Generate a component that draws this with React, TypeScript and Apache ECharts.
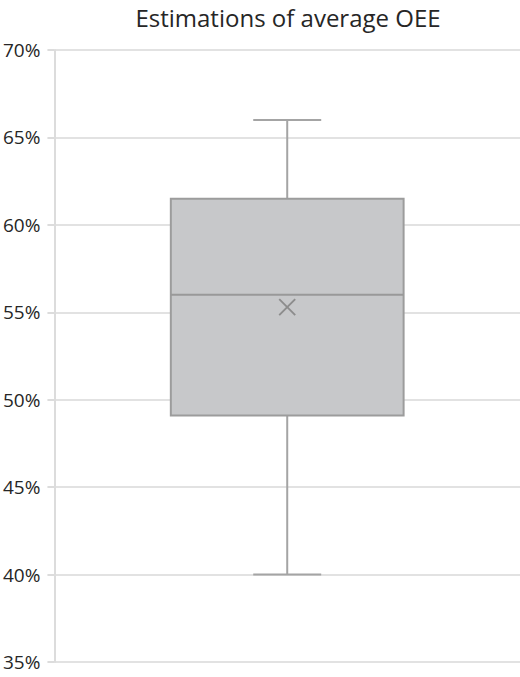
import { useEffect, useRef } from "react";
import * as echarts from "echarts";

// one box: [category index, min, Q1, median, Q3, max, mean] in percent
const categories = ["OEE"];
const boxStats = [[0, 40, 49.1, 56, 61.5, 66, 55.3]];
const yTicks = { min: 35, max: 70, interval: 5 };

const FONT = "'Open Sans', sans-serif";

export default function App() {
  const chartRef = useRef<HTMLDivElement>(null);

  useEffect(() => {
    document.body.style.margin = "0";
    if (!chartRef.current) return;
    const chart = echarts.init(chartRef.current, null, { renderer: "svg" });

    const option = {
      animation: false,
      backgroundColor: "#ffffff",
      title: {
        text: "Estimations of average OEE",
        left: 283,
        textAlign: "center",
        top: 0,
        textStyle: { fontFamily: FONT, fontSize: 24, fontWeight: "normal", color: "#262626" }
      },
      grid: { left: 53, right: 0, top: 50, bottom: 15 },
      xAxis: {
        type: "category",
        data: categories,
        axisLine: { show: false },
        axisTick: { show: false },
        axisLabel: { show: false }
      },
      yAxis: {
        type: "value",
        min: yTicks.min,
        max: yTicks.max,
        interval: yTicks.interval,
        axisLine: { show: true, lineStyle: { color: "#dcdcdc", width: 2 } },
        axisTick: { show: true, length: 7, lineStyle: { color: "#dcdcdc", width: 2 } },
        axisLabel: {
          formatter: "{value}%",
          margin: 14,
          fontFamily: FONT,
          fontSize: 19,
          color: "#262626"
        },
        splitLine: { show: true, lineStyle: { color: "#e2e2e2", width: 2 } }
      },
      series: [
        {
          type: "custom",
          data: boxStats,
          encode: { x: 0, y: [1, 2, 3, 4, 5, 6] },
          renderItem: (_params: any, api: any) => {
            const x = api.value(0);
            const pMin = api.coord([x, api.value(1)]);
            const pQ1 = api.coord([x, api.value(2)]);
            const pMed = api.coord([x, api.value(3)]);
            const pQ3 = api.coord([x, api.value(4)]);
            const pMax = api.coord([x, api.value(5)]);
            const pMean = api.coord([x, api.value(6)]);
            const band = api.size([1, 0])[0];
            const boxW = band * 0.5;
            const capW = band * 0.146;
            const cx = pMed[0];
            const whisker = { stroke: "#a4a4a4", lineWidth: 2 };
            const m = 8;
            return {
              type: "group",
              children: [
                { type: "line", shape: { x1: cx, y1: pMax[1], x2: cx, y2: pQ3[1] }, style: whisker },
                { type: "line", shape: { x1: cx, y1: pQ1[1], x2: cx, y2: pMin[1] }, style: whisker },
                { type: "line", shape: { x1: cx - capW / 2, y1: pMax[1], x2: cx + capW / 2, y2: pMax[1] }, style: whisker },
                { type: "line", shape: { x1: cx - capW / 2, y1: pMin[1], x2: cx + capW / 2, y2: pMin[1] }, style: whisker },
                {
                  type: "rect",
                  shape: { x: cx - boxW / 2, y: pQ3[1], width: boxW, height: pQ1[1] - pQ3[1] },
                  style: { fill: "#c7c8ca", stroke: "#9c9c9c", lineWidth: 2 }
                },
                { type: "line", shape: { x1: cx - boxW / 2, y1: pMed[1], x2: cx + boxW / 2, y2: pMed[1] }, style: { stroke: "#999999", lineWidth: 2 } },
                { type: "line", shape: { x1: cx - m, y1: pMean[1] - m, x2: cx + m, y2: pMean[1] + m }, style: { stroke: "#8c8c8c", lineWidth: 1.8 } },
                { type: "line", shape: { x1: cx - m, y1: pMean[1] + m, x2: cx + m, y2: pMean[1] - m }, style: { stroke: "#8c8c8c", lineWidth: 1.8 } }
              ]
            };
          }
        }
      ]
    };

    chart.setOption(option);
    return () => {
      chart.dispose();
    };
  }, []);

  return <div ref={chartRef} style={{ width: "520px", height: "677px" }} />;
}
